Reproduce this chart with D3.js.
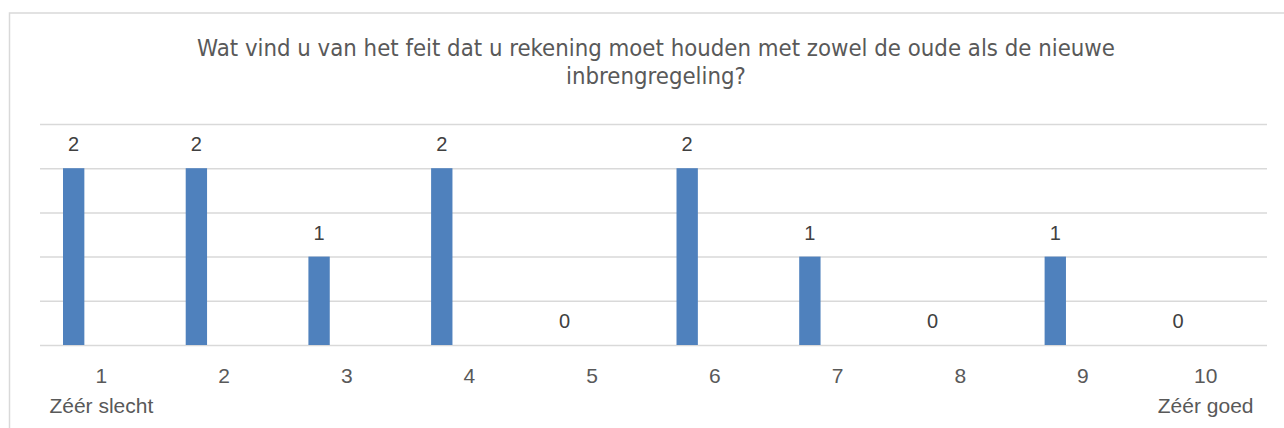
<!DOCTYPE html>
<html>
<head>
<meta charset="utf-8">
<script src="https://cdn.jsdelivr.net/npm/d3@7"></script>
<style>
  body { margin: 0; background: #fff; }
  svg { display: block; }
</style>
</head>
<body>
<div class="canvas"></div>
<script>
// chart data
const categories = ['1', '2', '3', '4', '5', '6', '7', '8', '9', '10'];
const subLabels = ['Zéér slecht', '', '', '', '', '', '', '', '', 'Zéér goed'];
const counts = [2, 2, 1, 2, 0, 2, 1, 0, 1, 0];
const yTicks = [0, 0.5, 1, 1.5, 2, 2.5];
const titleLines = [
  'Wat vind u van het feit dat u rekening moet houden met zowel de oude als de nieuwe',
  'inbrengregeling?'
];

const width = 1284;
const height = 428;

const svg = d3.select('.canvas')
  .append('svg')
  .attr('width', width)
  .attr('height', height);

// chart frame (right and bottom edges fall outside the picture)
svg.append('rect')
  .attr('x', 9.5)
  .attr('y', 13)
  .attr('width', 1300)
  .attr('height', 440)
  .attr('fill', 'none')
  .attr('stroke', '#d9d9d9')
  .attr('stroke-width', 1.5);

// plot area
const plot = { left: 40, right: 1267, top: 124, bottom: 345 };

const x = d3.scaleBand()
  .domain(categories)
  .range([plot.left, plot.right])
  .paddingInner(0)
  .paddingOuter(0);

const y = d3.scaleLinear()
  .domain([0, 2.5])
  .range([plot.bottom, plot.top]);

const barOffset = x.bandwidth() * 0.1875;
const barWidth = x.bandwidth() * 0.174;

// gridlines
const yAxis = d3.axisLeft(y)
  .tickValues(yTicks)
  .tickSize(-(plot.right - plot.left))
  .tickFormat('');

const yAxisGroup = svg.append('g')
  .attr('transform', `translate(${plot.left}, 0)`)
  .call(yAxis);

yAxisGroup.select('.domain').remove();
yAxisGroup.selectAll('line')
  .attr('stroke', '#d9d9d9')
  .attr('stroke-width', 1.5);

// bars
const data = categories.map((c, i) => ({ cat: c, value: counts[i], sub: subLabels[i] }));

svg.append('g')
  .selectAll('rect')
  .data(data)
  .enter()
  .append('rect')
  .attr('x', d => x(d.cat) + barOffset)
  .attr('y', d => y(d.value))
  .attr('width', barWidth)
  .attr('height', d => y(0) - y(d.value))
  .attr('fill', '#4f81bd');

// value labels
svg.append('g')
  .selectAll('text')
  .data(data)
  .enter()
  .append('text')
  .attr('x', d => x(d.cat) + barOffset + barWidth / 2)
  .attr('y', d => y(d.value) - 17)
  .attr('text-anchor', 'middle')
  .attr('font-family', '"Liberation Sans", Arial, sans-serif')
  .attr('font-size', 20)
  .attr('fill', '#404040')
  .text(d => d.value);

// category axis
const xAxis = d3.axisBottom(x).tickSize(0).tickPadding(0);
const xAxisGroup = svg.append('g')
  .attr('transform', `translate(0, ${plot.bottom})`)
  .call(xAxis);

xAxisGroup.select('.domain').remove();
xAxisGroup.selectAll('.tick text').remove();

const tickLabels = xAxisGroup.selectAll('.tick')
  .append('text')
  .attr('text-anchor', 'middle')
  .attr('font-family', '"Liberation Sans", Arial, sans-serif')
  .attr('font-size', 21)
  .attr('fill', '#595959');

tickLabels.append('tspan')
  .attr('x', 0)
  .attr('y', 38)
  .text(d => d);

tickLabels.append('tspan')
  .attr('x', 0)
  .attr('y', 68)
  .text((d, i) => subLabels[i]);

// title
const title = svg.append('text')
  .attr('text-anchor', 'middle')
  .attr('font-family', '"DejaVu Sans Condensed", "DejaVu Sans", sans-serif')
  .attr('font-size', 20)
  .attr('fill', '#595959');

title.selectAll('tspan')
  .data(titleLines)
  .enter()
  .append('tspan')
  .attr('x', 656)
  .attr('y', (d, i) => 56 + i * 28)
  .text(d => d);

// scale the title so the first line spans the same width as the reference
const firstLen = title.select('tspan').node().getComputedTextLength();
title.attr('font-size', 20 * 918 / firstLen);
</script>
</body>
</html>
